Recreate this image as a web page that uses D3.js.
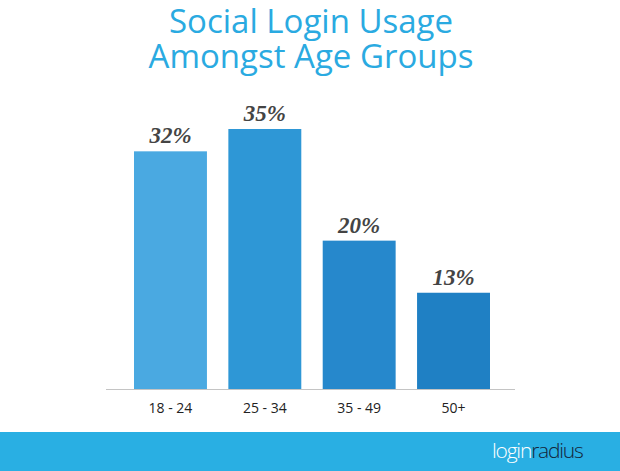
<!DOCTYPE html>
<html>
<head>
<meta charset="utf-8">
<script src="https://cdn.jsdelivr.net/npm/d3@7/dist/d3.min.js"></script>
<style>
  html, body { margin: 0; padding: 0; background: #fff; }
  svg { display: block; }
</style>
</head>
<body>
<svg id="chart" width="620" height="471"></svg>
<script>
const categories = ["18 - 24", "25 - 34", "35 - 49", "50+"];
const values = [32, 35, 20, 13];
const valueLabels = ["32%", "35%", "20%", "13%"];
const barColors = ["#4aa9e1", "#2e97d6", "#2688cc", "#1f80c4"];
const titleLines = ["Social Login Usage", "Amongst Age Groups"];

const svg = d3.select("#chart");
const W = 620, H = 471;
const baseline = 389.5;

svg.append("rect").attr("x", 0).attr("y", 0).attr("width", W).attr("height", H).attr("fill", "#fff");

// Title
svg.selectAll("text.title").data(titleLines).enter().append("text")
  .attr("class", "title")
  .attr("x", 311)
  .attr("y", (d, i) => 33 + i * 35)
  .attr("text-anchor", "middle")
  .attr("font-family", "'Open Sans', 'Noto Sans', sans-serif")
  .attr("font-size", 33)
  .attr("fill", "#2aaae1")
  .text(d => d);

const x = d3.scaleBand()
  .domain(categories)
  .range([123.3, 500.7])
  .paddingInner(0.227)
  .paddingOuter(0.1135);

const y = d3.scaleLinear()
  .domain([0, 35])
  .range([baseline, 129]);

const data = categories.map((c, i) => ({ c, v: values[i], label: valueLabels[i], color: barColors[i] }));

// Bars
svg.selectAll("rect.bar").data(data).enter().append("rect")
  .attr("class", "bar")
  .attr("x", d => x(d.c))
  .attr("y", d => y(d.v))
  .attr("width", x.bandwidth())
  .attr("height", d => y(0) - y(d.v))
  .attr("fill", d => d.color);

// Baseline
svg.append("line")
  .attr("x1", 106).attr("x2", 515)
  .attr("y1", baseline).attr("y2", baseline)
  .attr("stroke", "#c4c4c4").attr("stroke-width", 1.2);

// Value labels
svg.selectAll("text.val").data(data).enter().append("text")
  .attr("class", "val")
  .attr("x", d => x(d.c) + x.bandwidth() / 2)
  .attr("y", d => y(d.v) - 8)
  .attr("text-anchor", "middle")
  .attr("font-family", "'Liberation Serif', 'DejaVu Serif', serif")
  .attr("font-style", "italic")
  .attr("font-weight", "bold")
  .attr("font-size", 23)
  .attr("fill", "#444")
  .text(d => d.label);

// Category axis
const xAxis = d3.axisBottom(x).tickSize(0).tickPadding(0);
const gx = svg.append("g").attr("transform", `translate(0,${baseline})`).call(xAxis);
gx.select(".domain").remove();
gx.selectAll("text")
  .attr("dy", null)
  .attr("y", 23)
  .attr("font-family", "'Open Sans', 'Noto Sans', sans-serif")
  .attr("font-size", 14)
  .attr("fill", "#222");

// Footer band
svg.append("rect").attr("x", 0).attr("y", 432).attr("width", W).attr("height", H - 432).attr("fill", "#29afe3");
const logo = svg.append("text")
  .attr("x", 492).attr("y", 458)
  .attr("font-family", "'Open Sans', 'Noto Sans', sans-serif")
  .attr("font-weight", 300)
  .attr("font-size", 21)
  .attr("letter-spacing", -1.2);
logo.append("tspan").attr("fill", "#ffffff").text("login");
logo.append("tspan").attr("fill", "#14263a").text("radius");
</script>
</body>
</html>
